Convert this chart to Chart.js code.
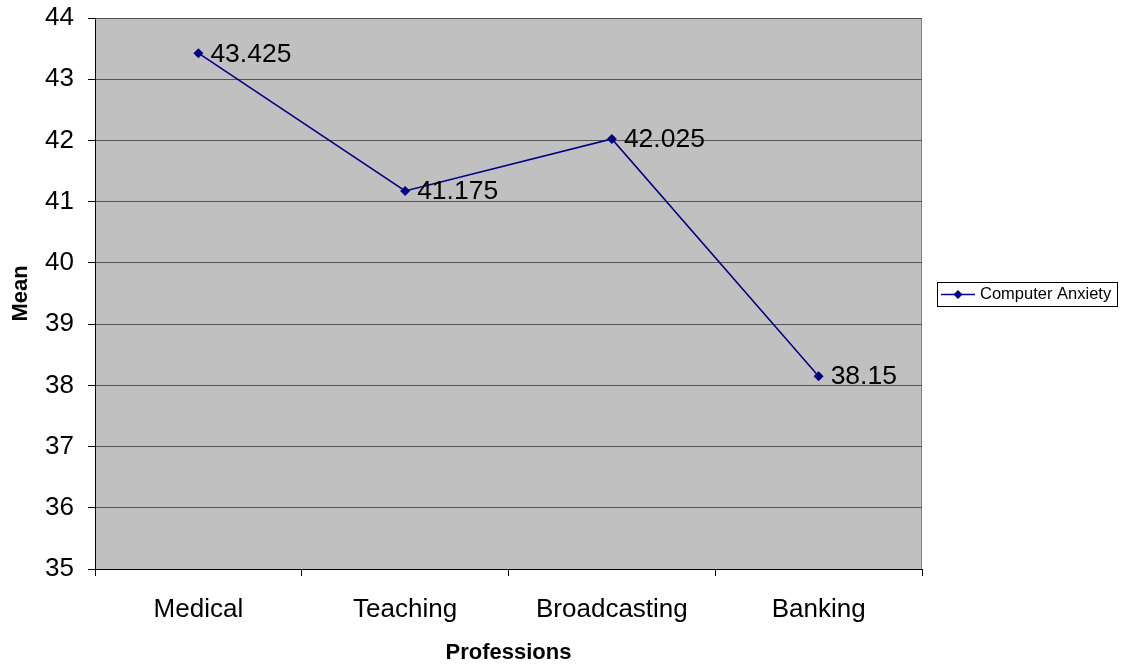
<!DOCTYPE html>
<html>
<head>
<meta charset="utf-8">
<script src="https://cdn.jsdelivr.net/npm/chart.js@4/dist/chart.umd.min.js"></script>
<style>
  html, body { margin: 0; padding: 0; background: #fff; }
  #wrap { width: 1123px; height: 666px; }
</style>
</head>
<body>
<div id="wrap"><canvas id="diagram"></canvas></div>
<script>
// data
const professions = ["Medical", "Teaching", "Broadcasting", "Banking"];
const meanValues = [43.425, 41.175, 42.025, 38.15];
const seriesName = "Computer Anxiety";
const yTicks = [35, 36, 37, 38, 39, 40, 41, 42, 43, 44];

const FONT = "'Liberation Sans', Arial, sans-serif";

// grey plot background + grey frame
const plotBg = {
  id: "plotBg",
  beforeDraw(chart) {
    const { ctx, chartArea: a } = chart;
    ctx.save();
    ctx.fillStyle = "#c0c0c0";
    ctx.fillRect(a.left, a.top, a.right - a.left, a.bottom - a.top);
    ctx.strokeStyle = "#808080";
    ctx.lineWidth = 1;
    ctx.strokeRect(a.left + 0.5, a.top + 0.5, a.right - a.left - 1, a.bottom - a.top);
    ctx.restore();
  },
};

// value labels next to each point
const valueLabels = {
  id: "valueLabels",
  afterDatasetsDraw(chart) {
    const { ctx } = chart;
    const meta = chart.getDatasetMeta(0);
    ctx.save();
    ctx.font = "26.5px " + FONT;
    ctx.fillStyle = "#000";
    ctx.textAlign = "left";
    ctx.textBaseline = "middle";
    meta.data.forEach((pt, i) => {
      ctx.fillText(String(meanValues[i]), pt.x + 12, pt.y + 1);
    });
    ctx.restore();
  },
};

// boxed legend on the right, like the old office charts
const boxLegend = {
  id: "boxLegend",
  afterDraw(chart) {
    const { ctx, chartArea: a } = chart;
    const x = a.right + 15, w = 180, h = 24;
    const y = Math.round((a.top + a.bottom) / 2 - h / 2);
    ctx.save();
    ctx.fillStyle = "#fff";
    ctx.fillRect(x, y, w, h);
    ctx.strokeStyle = "#000";
    ctx.lineWidth = 1;
    ctx.strokeRect(x + 0.5, y + 0.5, w, h);
    const cy = y + h / 2 + 0.5;
    ctx.strokeStyle = "#000080";
    ctx.lineWidth = 1.5;
    ctx.beginPath();
    ctx.moveTo(x + 4, cy);
    ctx.lineTo(x + 38, cy);
    ctx.stroke();
    ctx.fillStyle = "#000080";
    ctx.beginPath();
    ctx.moveTo(x + 21, cy - 4.5);
    ctx.lineTo(x + 25.5, cy);
    ctx.lineTo(x + 21, cy + 4.5);
    ctx.lineTo(x + 16.5, cy);
    ctx.closePath();
    ctx.fill();
    ctx.fillStyle = "#000";
    ctx.font = "16.5px " + FONT;
    ctx.textBaseline = "middle";
    ctx.fillText(seriesName, x + 43, cy);
    ctx.restore();
  },
};

const data = {
  labels: professions,
  datasets: [
    {
      label: seriesName,
      data: meanValues,
      borderColor: "#000080",
      backgroundColor: "#000080",
      borderWidth: 1.5,
      pointStyle: "rectRot",
      pointRadius: 5,
      pointBorderWidth: 0,
      tension: 0,
    },
  ],
};

const config = {
  type: "line",
  data: data,
  options: {
    responsive: true,
    maintainAspectRatio: false,
    animation: false,
    layout: { padding: { top: 18, right: 201, bottom: 0, left: 0 } },
    plugins: {
      legend: { display: false },
      tooltip: { enabled: false },
    },
    scales: {
      x: {
        offset: true,
        grid: {
          offset: true,
          drawOnChartArea: false,
          tickLength: 7,
          tickColor: "#000",
        },
        border: { color: "#000", width: 1 },
        ticks: {
          color: "#000",
          font: { family: FONT, size: 26 },
          padding: 18,
          maxRotation: 0,
        },
        title: {
          display: true,
          text: "Professions",
          color: "#000",
          font: { family: FONT, size: 22, weight: "bold" },
          padding: { top: 0, bottom: 0 },
        },
        afterFit(scale) {
          scale.height = 97;
          scale.paddingLeft = 0;
          scale.paddingRight = 0;
        },
      },
      y: {
        min: 35,
        max: 44,
        afterBuildTicks(scale) {
          scale.ticks = yTicks.map((v) => ({ value: v }));
        },
        grid: {
          color: "#555",
          tickColor: "#000",
          tickLength: 7,
          lineWidth: 1,
        },
        border: { color: "#000", width: 1 },
        ticks: {
          color: "#000",
          font: { family: FONT, size: 26 },
          padding: 14,
        },
        title: {
          display: true,
          text: "Mean",
          color: "#000",
          font: { family: FONT, size: 22, weight: "bold" },
          padding: { top: 8, bottom: 0 },
        },
        afterFit(scale) {
          scale.width = 95;
          scale.paddingTop = 0;
          scale.paddingBottom = 0;
        },
      },
    },
  },
  plugins: [plotBg, valueLabels, boxLegend],
};

const canvas = document.getElementById("diagram");
const chart = new Chart(canvas, config);
</script>
</body>
</html>
